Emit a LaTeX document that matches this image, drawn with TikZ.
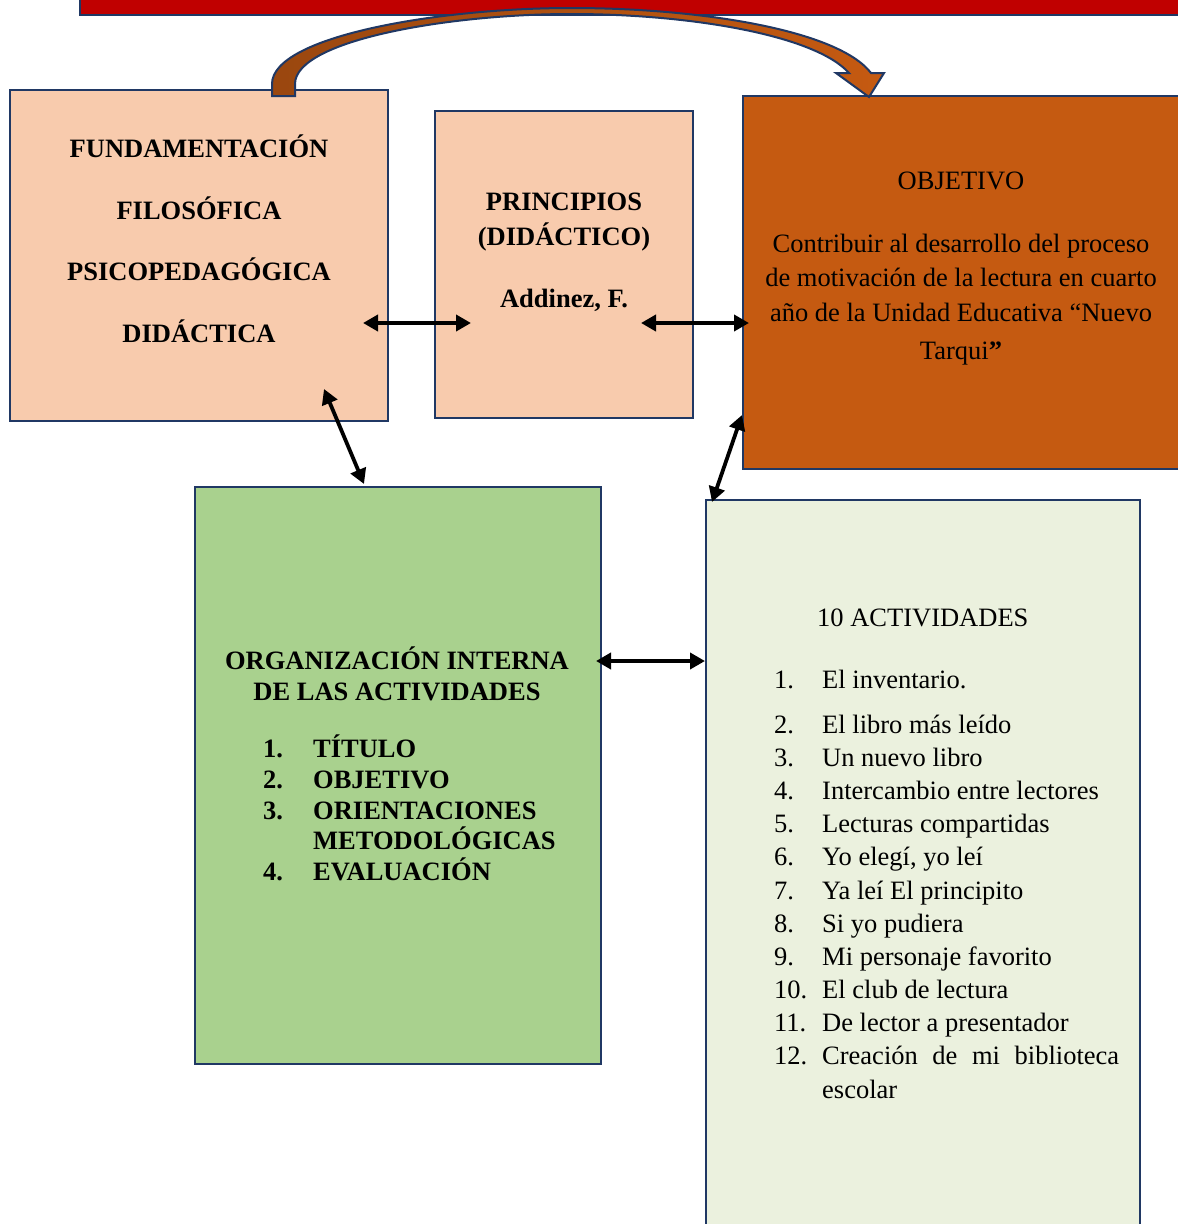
\documentclass[tikz,border=0pt]{standalone}
\usepackage{fontspec}
\setmainfont{Liberation Serif}
\usetikzlibrary{arrows.meta}
\definecolor{navy}{HTML}{203864}
\definecolor{peach}{HTML}{F8CBAD}
\definecolor{rust}{HTML}{C55A11}
\definecolor{rustdark}{HTML}{9A470F}
\definecolor{leaf}{HTML}{A9D18E}
\definecolor{pale}{HTML}{EBF1DE}
\definecolor{barred}{HTML}{C00000}
\begin{document}
\begin{tikzpicture}[x=1pt,y=-1pt,
  box/.style={draw=navy,line width=2.5pt,rectangle,inner sep=0pt,outer sep=0pt,anchor=north west},
  txt/.style={inner sep=0pt,anchor=base,font=\fontsize{26.5}{32}\selectfont},
  btxt/.style={inner sep=0pt,anchor=base,font=\fontsize{26.5}{32}\selectfont\bfseries},
  dbl/.style={{Triangle[length=15pt,width=16pt]}-{Triangle[length=15pt,width=16pt]},line width=3.8pt,black}]
\clip (0,0) rectangle (1178,1224);
\fill[white] (0,0) rectangle (1178,1224);
% top red bar
\path[fill=barred,draw=navy,line width=2pt] (80,-20) rectangle (1200,15);
% boxes
\node[box,fill=peach,minimum width=378pt,minimum height=331pt] (fund) at (10,90) {};
\node[box,fill=peach,minimum width=258pt,minimum height=307pt] (prin) at (435,111) {};
\node[box,fill=rust,minimum width=457pt,minimum height=373pt] (obj) at (743,96) {};
\node[box,fill=leaf,minimum width=406pt,minimum height=577pt] (org) at (195,487) {};
\node[box,fill=pale,minimum width=434pt,minimum height=760pt] (act) at (706,500) {};
% curved arrow
\path[draw=navy,line width=2pt,left color=rustdark,right color=rust]
 (272,96) -- (272,84) .. controls (272,36) and (440,8) .. (571,8)
 .. controls (700,8) and (838,30) .. (871,73) -- (884,73) -- (869,97) -- (836,73) -- (849,73)
 .. controls (815,35) and (690,14) .. (571,14) .. controls (450,14) and (295,40) .. (295,84) -- (295,96) -- cycle;
% box 1 text
\node[btxt] (f1) at (199,157) {FUNDAMENTACIÓN};
\node[btxt] (f2) at (199,219) {FILOSÓFICA};
\node[btxt] (f3) at (199,280) {PSICOPEDAGÓGICA};
\node[btxt] (f4) at (199,342) {DIDÁCTICA};
% box 2 text
\node[btxt] (p1) at (564,210) {PRINCIPIOS};
\node[btxt] (p2) at (564,245) {(DIDÁCTICO)};
\node[btxt] (p3) at (564,307) {Addinez, F.};
% box 3 text
\node[txt] (o1) at (961,189) {OBJETIVO};
\node[txt] (o2) at (961,252) {Contribuir al desarrollo del proceso};
\node[txt] (o3) at (961,286) {de motivación de la lectura en cuarto};
\node[txt] (o4) at (961,321) {año de la Unidad Educativa “Nuevo};
\node[txt] (o5) at (961,359) {Tarqui\textbf{”}};
% box 4 text
\node[btxt] (g1) at (397,669) {ORGANIZACIÓN INTERNA};
\node[btxt] (g2) at (397,700) {DE LAS ACTIVIDADES};
\foreach \n/\t/\y [count=\i] in {1./TÍTULO/757,2./OBJETIVO/788,3./ORIENTACIONES/819,/METODOLÓGICAS/849,4./EVALUACIÓN/880}{
  \node[btxt,anchor=base west] (gn\i) at (263,\y) {\n};
  \node[btxt,anchor=base west] (gt\i) at (313,\y) {\t};
}
% box 5 text
\node[txt,anchor=base west] (ah) at (817,626) {10 ACTIVIDADES};
\foreach \n/\t/\y [count=\i] in {1./El inventario./688,2./El libro más leído/733,3./Un nuevo libro/766,4./Intercambio entre lectores/799,5./Lecturas compartidas/832,6./Yo elegí{,} yo leí/865,7./Ya leí El principito/899,8./Si yo pudiera/932,9./Mi personaje favorito/965,10./El club de lectura/998,11./De lector a presentador/1031}{
  \node[txt,anchor=base west] (an\i) at (774,\y) {\n};
  \node[txt,anchor=base west] (at\i) at (822,\y) {\t};
}
\node[txt,anchor=base west] (an12) at (774,1064) {12.};
\node[txt,anchor=base west] (at12) at (822,1064) {\makebox[297pt][s]{Creación de mi biblioteca}};
\node[txt,anchor=base west] (at13) at (822,1098) {escolar};
% connectors
\coordinate (a1s) at (363,323); \coordinate (a1e) at (471,323);
\coordinate (a2s) at (641,323); \coordinate (a2e) at (749,323);
\coordinate (a3s) at (324,389); \coordinate (a3e) at (364,484);
\coordinate (a4s) at (742,415); \coordinate (a4e) at (712,502);
\coordinate (a5s) at (596,661); \coordinate (a5e) at (705,661);
\draw[dbl] (a1s) -- (a1e);
\draw[dbl] (a2s) -- (a2e);
\draw[dbl] (a3s) -- (a3e);
\draw[dbl] (a4s) -- (a4e);
\draw[dbl] (a5s) -- (a5e);
\end{tikzpicture}
\end{document}
